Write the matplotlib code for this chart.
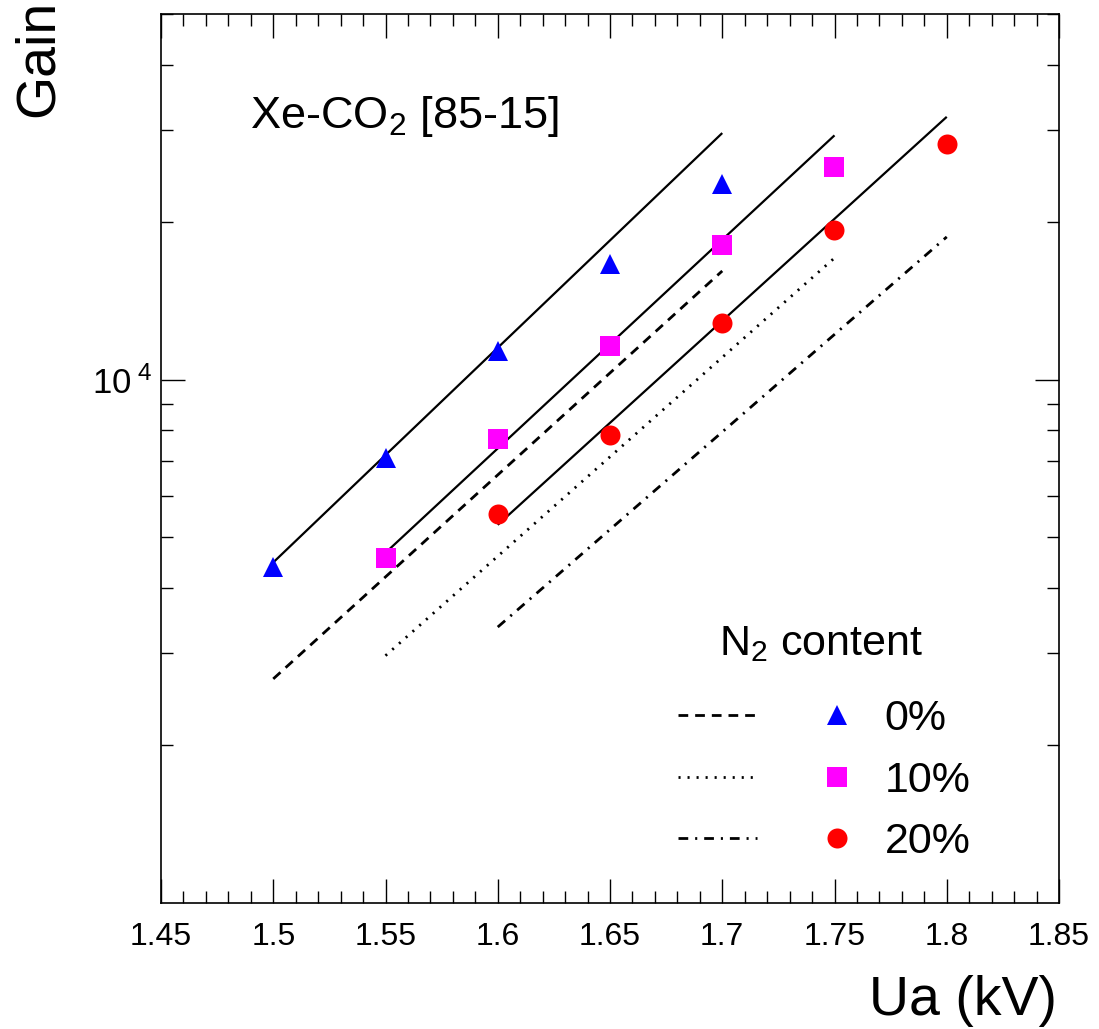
import matplotlib
matplotlib.use('Agg')
import matplotlib.pyplot as plt
from matplotlib.legend_handler import HandlerTuple
from matplotlib.ticker import FixedLocator, LogLocator, NullFormatter, FuncFormatter, MultipleLocator

plt.rcParams['font.family'] = ['Liberation Sans', 'DejaVu Sans']
plt.rcParams['mathtext.fontset'] = 'custom'
plt.rcParams['mathtext.rm'] = 'Liberation Sans'
plt.rcParams['mathtext.it'] = 'Liberation Sans:italic'
plt.rcParams['mathtext.default'] = 'regular'
plt.rcParams['lines.scale_dashes'] = False

# measured gain vs anode voltage, Xe-CO2 [85-15] with N2 admixture
ua_0 = [1.50, 1.55, 1.60, 1.65, 1.70]
gain_0 = [4387, 7098, 11358, 16650, 23660]
ua_10 = [1.55, 1.60, 1.65, 1.70, 1.75]
gain_10 = [4567, 7716, 11610, 18100, 25540]
ua_20 = [1.60, 1.65, 1.70, 1.75, 1.80]
gain_20 = [5542, 7853, 12850, 19330, 28250]

# exponential fits (solid) and calculated gains (broken), given by their end points
fit_ua_0 = [1.50, 1.70]
fit_gain_0 = [4476, 29610]
fit_ua_10 = [1.55, 1.75]
fit_gain_10 = [4670, 29310]
fit_ua_20 = [1.60, 1.80]
fit_gain_20 = [5281, 31800]

calc_gain_0 = [2681, 16140]
calc_gain_10 = [2970, 17090]
calc_gain_20 = [3368, 18750]

labels = ['0%', '10%', '20%']

fig = plt.figure(figsize=(10.99, 10.29), dpi=100)
ax = fig.add_axes([161 / 1099, 1 - 903 / 1029, 898 / 1099, 889 / 1029])

dash = (7, 5)
dot = (1.5, 5)
dashdot = (7, 5, 1.5, 5)

# solid fit lines
for u, g in [(fit_ua_0, fit_gain_0), (fit_ua_10, fit_gain_10), (fit_ua_20, fit_gain_20)]:
    ax.plot(u, g, color='black', lw=1.6, solid_capstyle='butt')

l0, = ax.plot(fit_ua_0, calc_gain_0, color='black', lw=2, dashes=dash)
l1, = ax.plot(fit_ua_10, calc_gain_10, color='black', lw=2, dashes=dot)
l2, = ax.plot(fit_ua_20, calc_gain_20, color='black', lw=2, dashes=dashdot)

ms = 14.4
m0, = ax.plot(ua_0, gain_0, ls='none', marker='^', ms=ms, color='#0000ff', mec='#0000ff', mew=0)
m1, = ax.plot(ua_10, gain_10, ls='none', marker='s', ms=ms, color='#ff00ff', mec='#ff00ff', mew=0)
m2, = ax.plot(ua_20, gain_20, ls='none', marker='o', ms=ms, color='#ff0000', mec='#ff0000', mew=0)

ax.set_yscale('log')
ax.set_xlim(1.45, 1.85)
ax.set_ylim(1000, 50000)

ax.xaxis.set_major_locator(MultipleLocator(0.05))
ax.xaxis.set_minor_locator(MultipleLocator(0.01))
ax.xaxis.set_major_formatter(FuncFormatter(lambda v, p: f'{v:g}'))
ax.yaxis.set_major_locator(FixedLocator([1e4]))
ax.yaxis.set_minor_locator(LogLocator(base=10, subs=range(2, 10)))
ax.yaxis.set_minor_formatter(NullFormatter())
ax.yaxis.set_major_formatter(FuncFormatter(lambda v, p: r'10$^{\ 4}$'))

ax.tick_params(which='both', direction='in', top=True, right=True, width=1)
ax.tick_params(which='major', length=17, labelsize=23)
ax.tick_params(which='minor', length=8.6)
ax.tick_params(axis='x', which='major', pad=14)
ax.tick_params(axis='y', which='major', pad=6, labelsize=25)
for s in ax.spines.values():
    s.set_linewidth(1.2)

ax.set_xlabel('Ua (kV)', fontsize=40, loc='right')
ax.xaxis.set_label_coords(0.998, -0.081)
ax.set_ylabel('Gain', fontsize=40, loc='top')
ax.yaxis.set_label_coords(-0.107, 1.016)

ax.text(0.099, 0.872, 'Xe-CO$_2$ [85-15]', transform=ax.transAxes, fontsize=32.5,
        ha='left', va='baseline')

# legend header, then line style + marker per N2 fraction
ax.text(0.735, 0.279, 'N$_2$ content', transform=ax.transAxes, fontsize=31,
        ha='center', va='baseline')
leg = ax.legend([(l0, m0), (l1, m1), (l2, m2)], labels,
                handler_map={tuple: HandlerTuple(ndivide=None, pad=0.93)},
                loc='upper left', bbox_to_anchor=(0.5757, 0.229), frameon=False,
                fontsize=31, handlelength=4.6, handletextpad=0.2, labelspacing=0.5,
                borderpad=0, borderaxespad=0)

fig.savefig('out.png', dpi=100)
